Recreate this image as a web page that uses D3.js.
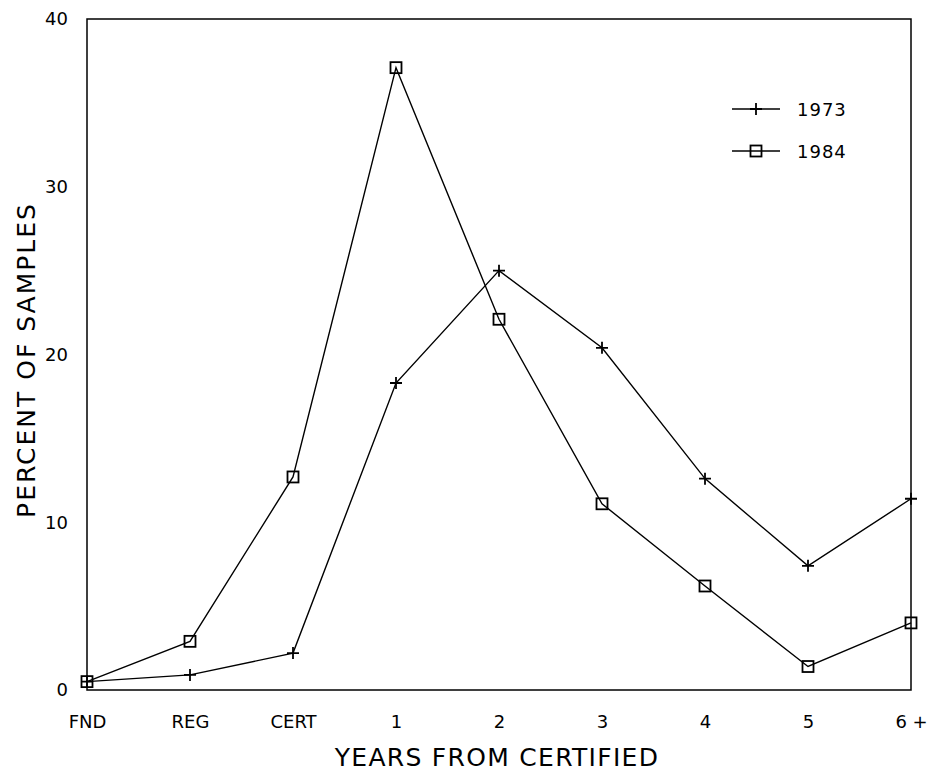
<!DOCTYPE html>
<html>
<head>
<meta charset="utf-8">
<script src="https://cdn.jsdelivr.net/npm/d3@7"></script>
<style>
    body { margin: 0; background: #fff; }
    svg { display: block; font-family: "DejaVu Sans", sans-serif; }
</style>
</head>
<body>
<div id="chart"></div>
<script>
const categories = ['FND', 'REG', 'CERT', '1', '2', '3', '4', '5', '6 +'];
const values1973 = [0.5, 0.9, 2.2, 18.3, 25.0, 20.4, 12.6, 7.4, 11.4];
const values1984 = [0.5, 2.9, 12.7, 37.1, 22.1, 11.1, 6.2, 1.4, 4.0];
const yTicks = [0, 10, 20, 30, 40];

const series = [
    { name: '1973', values: values1973, marker: 'plus' },
    { name: '1984', values: values1984, marker: 'square' },
];

const width = 933;
const height = 771;
const margin = { top: 19, right: 22, bottom: 81, left: 87 };

const svg = d3.select('#chart')
    .append('svg')
    .attr('width', width)
    .attr('height', height);

const x = d3.scalePoint()
    .domain(categories)
    .range([margin.left, width - margin.right]);

const y = d3.scaleLinear()
    .domain([0, 40])
    .range([height - margin.bottom, margin.top]);

// frame
svg.append('rect')
    .attr('x', margin.left)
    .attr('y', margin.top)
    .attr('width', width - margin.left - margin.right)
    .attr('height', height - margin.top - margin.bottom)
    .attr('fill', 'none')
    .attr('stroke', '#000')
    .attr('stroke-width', 1.5);

// axes (labels only, the frame is the axis line)
const yAxis = d3.axisLeft(y)
    .tickValues(yTicks)
    .tickSize(0)
    .tickPadding(19);
svg.append('g')
    .attr('transform', `translate(${margin.left},0)`)
    .call(yAxis)
    .call(g => g.select('.domain').remove())
    .selectAll('text')
    .attr('font-size', 18)
    .attr('font-family', '"DejaVu Sans", sans-serif')
    .attr('fill', '#000');

const xAxis = d3.axisBottom(x)
    .tickSize(0)
    .tickPadding(25);
svg.append('g')
    .attr('transform', `translate(0,${height - margin.bottom})`)
    .call(xAxis)
    .call(g => g.select('.domain').remove())
    .selectAll('text')
    .attr('font-size', 18)
    .attr('font-family', '"DejaVu Sans", sans-serif')
    .attr('fill', '#000');

// axis titles
svg.append('text')
    .attr('x', 497)
    .attr('y', 766)
    .attr('text-anchor', 'middle')
    .attr('font-size', 25)
    .attr('letter-spacing', 1.3)
    .text('YEARS FROM CERTIFIED');

svg.append('text')
    .attr('transform', `translate(35,360) rotate(-90)`)
    .attr('text-anchor', 'middle')
    .attr('font-size', 25)
    .attr('letter-spacing', 2)
    .text('PERCENT OF SAMPLES');

// lines
const line = d3.line()
    .x((d, i) => x(categories[i]))
    .y(d => y(d));

function drawMarker(g, type, cx, cy) {
    if (type === 'plus') {
        g.append('path')
            .attr('d', `M${cx - 6},${cy}H${cx + 6}M${cx},${cy - 6}V${cy + 6}`)
            .attr('stroke', '#000')
            .attr('stroke-width', 1.8);
    } else {
        g.append('rect')
            .attr('x', cx - 5.5)
            .attr('y', cy - 5.5)
            .attr('width', 11)
            .attr('height', 11)
            .attr('fill', 'none')
            .attr('stroke', '#000')
            .attr('stroke-width', 1.8);
    }
}

series.forEach(s => {
    const g = svg.append('g');
    g.append('path')
        .datum(s.values)
        .attr('d', line)
        .attr('fill', 'none')
        .attr('stroke', '#000')
        .attr('stroke-width', 1.4);
    s.values.forEach((v, i) => drawMarker(g, s.marker, x(categories[i]), y(v)));
});

// legend
const legend = svg.append('g');
series.forEach((s, i) => {
    const ly = 109 + i * 42;
    legend.append('line')
        .attr('x1', 732)
        .attr('x2', 780)
        .attr('y1', ly)
        .attr('y2', ly)
        .attr('stroke', '#000')
        .attr('stroke-width', 1.4);
    drawMarker(legend, s.marker, 756, ly);
    legend.append('text')
        .attr('x', 797)
        .attr('y', ly + 7)
        .attr('font-size', 18)
        .attr('letter-spacing', 1)
        .text(s.name);
});
</script>
</body>
</html>
